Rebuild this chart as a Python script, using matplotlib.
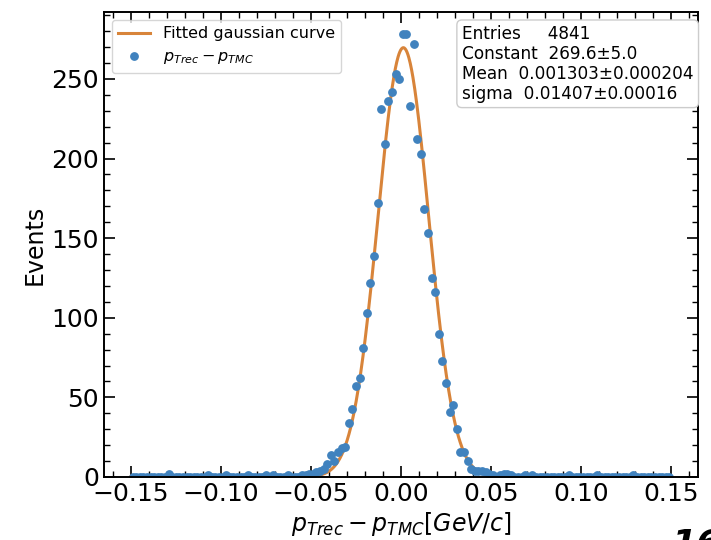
import numpy as np
import matplotlib.pyplot as plt

# histogram of p_Trec - p_TMC, 150 bins in [-0.15, 0.15]
bin_edges = np.linspace(-0.15, 0.15, 151)
counts = [
    0, 0, 0, 0, 0, 0, 0, 0, 0, 0,
    2, 0, 0, 0, 0, 0, 0, 0, 0, 0,
    0, 1, 0, 0, 0, 0, 1, 0, 0, 0,
    0, 0, 1, 0, 0, 0, 0, 1, 0, 1,
    0, 0, 0, 1, 0, 0, 0, 1, 1, 2,
    2, 3, 4, 5, 8, 14, 10, 16, 18, 19,
    34, 43, 57, 62, 81, 103, 122, 139, 172, 231,
    209, 236, 242, 253, 250, 278, 278, 233, 272, 212,
    203, 168, 153, 125, 116, 90, 73, 59, 41, 45,
    30, 16, 16, 10, 5, 4, 4, 4, 3, 2,
    1, 0, 1, 2, 2, 1, 0, 0, 0, 1,
    0, 1, 0, 0, 0, 0, 0, 0, 0, 0,
    0, 1, 0, 0, 0, 0, 0, 0, 0, 1,
    0, 0, 0, 0, 0, 0, 0, 0, 0, 1,
    0, 0, 0, 0, 0, 0, 0, 0, 0, 0,
]

# fit parameters from the stats box
entries = 4841
constant, constant_err = 269.6, 5.0
mean, mean_err = 0.001303, 0.000204
sigma, sigma_err = 0.01407, 0.00016

centers = 0.5 * (bin_edges[:-1] + bin_edges[1:])
xfit = np.linspace(-0.15, 0.15, 1200)
yfit = constant * np.exp(-0.5 * ((xfit - mean) / sigma) ** 2)

fig = plt.figure(figsize=(7.11, 5.4), dpi=100)
ax = fig.add_axes([0.146, 0.1167, 0.836, 0.861])

ax.plot(xfit, yfit, color='#d8843a', lw=2.2, label='Fitted gaussian curve')
ax.plot(centers, counts, 'o', color='#4082be', ms=5.3, label=r'$p_{Trec}-p_{TMC}$')

ax.set_xlim(-0.165, 0.165)
ax.set_ylim(0, 292)
ax.set_xticks([-0.15, -0.10, -0.05, 0.00, 0.05, 0.10, 0.15])
ax.set_yticks([0, 50, 100, 150, 200, 250])
ax.set_xticks(np.arange(-0.16, 0.161, 0.01), minor=True)
ax.set_yticks(np.arange(0, 291, 10), minor=True)
ax.tick_params(which='both', direction='in', top=True, right=True, labelsize=18)
ax.tick_params(which='major', length=8, width=1.2)
ax.tick_params(which='minor', length=4, width=1.0)
for s in ax.spines.values():
    s.set_linewidth(1.4)

ax.set_xlabel(r'$p_{Trec}-p_{TMC}[GeV/c]$', fontsize=17, labelpad=3)
ax.set_ylabel('Events', fontsize=17, labelpad=3)

ax.legend(loc='upper left', fontsize=11.5, borderaxespad=0.5)

stats = (f'Entries     {entries}\n'
         f'Constant  {constant}\u00b1{constant_err}\n'
         f'Mean  {mean}\u00b1{mean_err}\n'
         f'sigma  {sigma}\u00b1{sigma_err}')
ax.text(0.992, 0.972, stats, transform=ax.transAxes, ha='right', va='top',
        multialignment='left', fontsize=12.2, linespacing=1.13,
        bbox=dict(boxstyle='round,pad=0.3', fc='white', ec='0.8'))

fig.text(0.945, -0.026, '16', fontsize=26, fontweight='bold', style='italic')

fig.savefig('out.png', dpi=100)
